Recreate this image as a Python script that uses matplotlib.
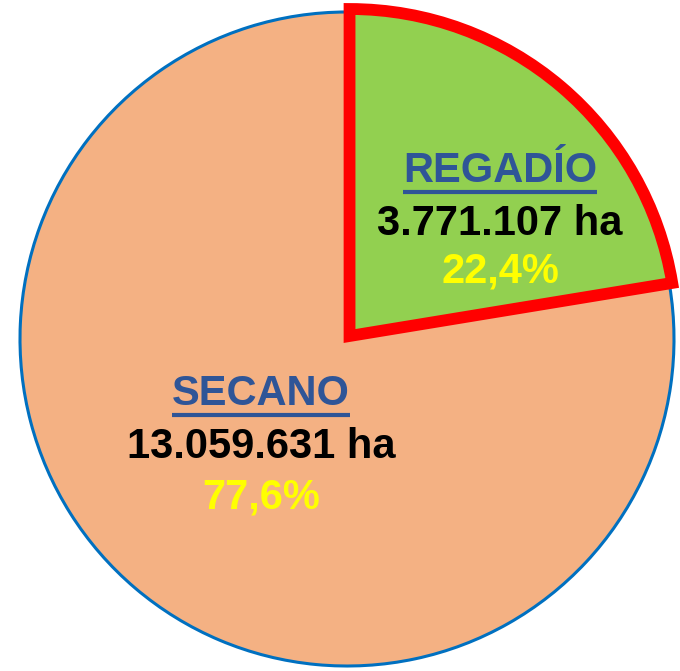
import matplotlib
matplotlib.use('Agg')
from matplotlib import pyplot as plt

# data
labels = ['REGADÍO', 'SECANO']
hectares = [3771107, 13059631]
colors = ['#92D050', '#F4B183']
edge_colors = ['#FF0000', '#0070C0']

# label anchor positions in pixels (x centre, baselines of the 3 lines)
label_px = {
    'REGADÍO': (500, [182, 235, 282]),
    'SECANO': (261, [405, 458, 508]),
}

W, H = 680, 671
CX, CY, R = 347, 339, 327


def fmt_ha(v):
    return f'{v:,}'.replace(',', '.') + ' ha'


def fmt_pct(p):
    return f'{p:.1f}'.replace('.', ',') + '%'


def to_data(px, py):
    return (px - CX) / R, (CY - py) / R


plt.rcParams['font.family'] = ['Liberation Sans', 'DejaVu Sans']

fig = plt.figure(figsize=(W / 100, H / 100), dpi=100)
ax = fig.add_axes([0, 0, 1, 1])
ax.set_xlim(-CX / R, (W - CX) / R)
ax.set_ylim(-(H - CY) / R, CY / R)
ax.axis('off')

wedges, _ = ax.pie(hectares, colors=colors, startangle=90, counterclock=False,
                   radius=1, explode=[0.012, 0], center=(0, 0), frame=False)
ax.set_xlim(-CX / R, (W - CX) / R)
ax.set_ylim(-(H - CY) / R, CY / R)
ax.set_aspect('auto')

wedges[0].set_edgecolor(edge_colors[0])
wedges[0].set_linewidth(8.5)
wedges[0].set_joinstyle('miter')
wedges[0].set_zorder(3)
wedges[1].set_edgecolor(edge_colors[1])
wedges[1].set_linewidth(2.2)
wedges[1].set_zorder(2)

total = sum(hectares)
titles = []
for name, v in zip(labels, hectares):
    px, bases = label_px[name]
    x, y0 = to_data(px, bases[0])
    t = ax.text(x, y0, name, ha='center', va='baseline', fontsize=30,
                fontweight='bold', color='#2F5597', zorder=5)
    titles.append(t)
    _, y1 = to_data(px, bases[1])
    ax.text(x, y1, fmt_ha(v), ha='center', va='baseline', fontsize=30,
            fontweight='bold', color='black', zorder=5)
    _, y2 = to_data(px, bases[2])
    ax.text(x, y2, fmt_pct(100 * v / total), ha='center', va='baseline',
            fontsize=30, fontweight='bold', color='#FFFF00', zorder=5)

# underline the titles
fig.canvas.draw()
inv = ax.transData.inverted()
for t in titles:
    bb = t.get_window_extent()
    (x0, _), (x1, _) = inv.transform([(bb.x0, 0), (bb.x1, 0)])
    _, yb = t.get_position()
    yu = yb - 10 / R
    ax.plot([x0, x1], [yu, yu], color='#2F5597', lw=3, zorder=5,
            solid_capstyle='butt')

fig.savefig('out.png', dpi=100)
